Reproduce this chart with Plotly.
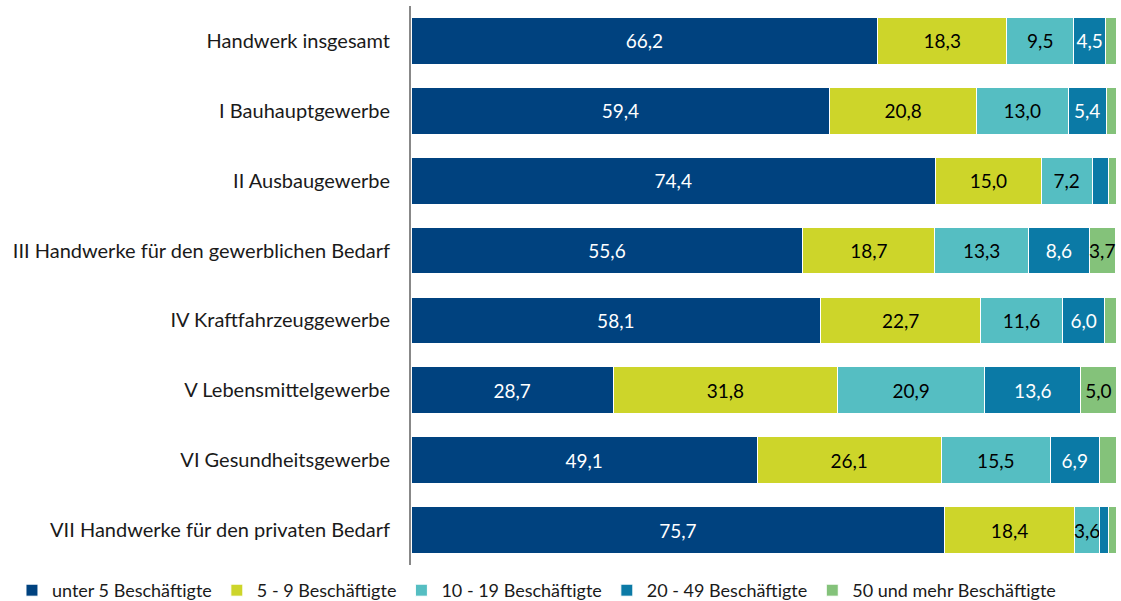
import plotly.graph_objects as go

categories = [
    "Handwerk insgesamt",
    "I Bauhauptgewerbe",
    "II Ausbaugewerbe",
    "III Handwerke für den gewerblichen Bedarf",
    "IV Kraftfahrzeuggewerbe",
    "V Lebensmittelgewerbe",
    "VI Gesundheitsgewerbe",
    "VII Handwerke für den privaten Bedarf",
]
series_names = [
    "unter 5 Beschäftigte",
    "5 - 9 Beschäftigte",
    "10 - 19 Beschäftigte",
    "20 - 49 Beschäftigte",
    "50 und mehr Beschäftigte",
]
unter5 = [66.2, 59.4, 74.4, 55.6, 58.1, 28.7, 49.1, 75.7]
b5_9 = [18.3, 20.8, 15.0, 18.7, 22.7, 31.8, 26.1, 18.4]
b10_19 = [9.5, 13.0, 7.2, 13.3, 11.6, 20.9, 15.5, 3.6]
b20_49 = [4.5, 5.4, 2.4, 8.6, 6.0, 13.6, 6.9, 1.3]
b50 = [1.5, 1.4, 1.0, 3.7, 1.6, 5.0, 2.4, 1.0]

colors = ["#00427f", "#cdd52a", "#55bec2", "#0b7aa6", "#84c27a"]
text_colors = ["white", "black", "black", "white", "black"]

FONT = "Lato"

fig = go.Figure()
for name, vals, col, tcol in zip(series_names, [unter5, b5_9, b10_19, b20_49, b50], colors, text_colors):
    labels = [f"{v:.1f}".replace(".", ",") if v >= 3 else "" for v in vals]
    fig.add_trace(go.Bar(
        y=categories, x=vals, name=name, orientation="h",
        marker=dict(color=col, line=dict(color="white", width=1)),
        text=labels, textposition="inside", insidetextanchor="middle",
        constraintext="none", textangle=0,
        textfont=dict(family=FONT, size=19, color=tcol),
        hoverinfo="skip",
    ))

fig.update_layout(
    barmode="stack",
    bargap=0.33,
    width=1121, height=601,
    margin=dict(l=411, r=5, t=6, b=36, autoexpand=False),
    paper_bgcolor="white", plot_bgcolor="white",
    font=dict(family=FONT, size=20, color="#1a1a1a"),
    showlegend=True,
    legend=dict(orientation="h", x=-0.566, xanchor="left",
                y=-0.0125, yanchor="top", font=dict(size=18, family=FONT),
                traceorder="normal", itemwidth=30),
    xaxis=dict(range=[0, 100], showgrid=False, showticklabels=False,
               zeroline=False, showline=False, fixedrange=True),
    yaxis=dict(autorange="reversed", showgrid=False, showline=True,
               linecolor="#888888", linewidth=2, ticks="", automargin=False,
               ticklabelstandoff=15, tickfont=dict(size=20, family=FONT)),
)

fig.write_html("out.html", config={"displayModeBar": False},
               post_script="document.body.style.margin='0';document.body.style.padding='0';")
